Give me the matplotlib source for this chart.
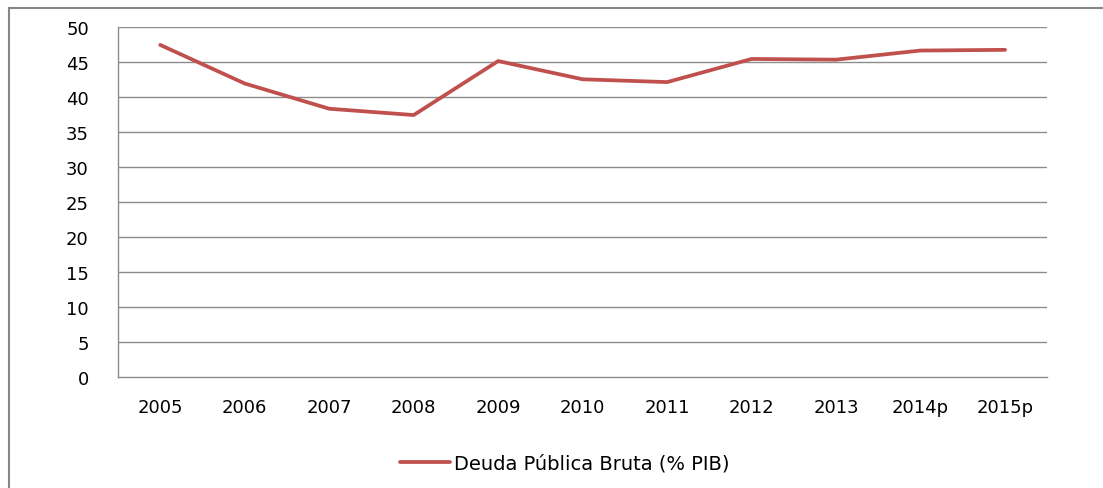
import matplotlib
matplotlib.use("Agg")
import matplotlib.pyplot as plt
from matplotlib.lines import Line2D

# données
annees = ["2005", "2006", "2007", "2008", "2009", "2010", "2011", "2012", "2013", "2014p", "2015p"]
deuda = [47.4, 41.9, 38.3, 37.4, 45.1, 42.5, 42.1, 45.4, 45.3, 46.6, 46.7]
y_ticks = [0, 5, 10, 15, 20, 25, 30, 35, 40, 45, 50]

W, H = 1103, 489
fig = plt.figure(figsize=(W / 100, H / 100), dpi=100)
ax = fig.add_axes([118 / W, 1 - 378.3 / H, (1047.3 - 118) / W, (378.3 - 27.7) / H])

x = list(range(len(annees)))
ax.plot(x, deuda, color="#C0504D", linewidth=2.7, solid_capstyle="round",
        solid_joinstyle="round", label="Deuda Pública Bruta (% PIB)", zorder=3)

ax.set_xlim(-0.5, len(annees) - 0.5)
ax.set_ylim(0, 50)
ax.set_yticks(y_ticks)
ax.set_xticks(x)
ax.set_xticklabels(annees)

# grille horizontale grise
for v in y_ticks[1:]:
    ax.axhline(v, color="#8c8c8c", linewidth=1.0, zorder=1)

for s in ["top", "right"]:
    ax.spines[s].set_visible(False)
ax.spines["left"].set_color("#8c8c8c")
ax.spines["bottom"].set_color("#8c8c8c")
ax.spines["left"].set_linewidth(1.0)
ax.spines["bottom"].set_linewidth(1.0)

ax.tick_params(axis="both", length=0, labelsize=13, colors="#000000")
ax.tick_params(axis="y", pad=21)
ax.tick_params(axis="x", pad=15)

leg = ax.legend(loc="center", bbox_to_anchor=(0.4806, -0.245), frameon=False,
                fontsize=14, handlelength=2.6, handletextpad=0.2)

# cadre extérieur (coupé en bas et à droite)
fig.add_artist(Line2D([9 / W, 1.0], [1 - 9 / H, 1 - 9 / H], color="#868686", linewidth=1.5))
fig.add_artist(Line2D([9 / W, 9 / W], [0.0, 1 - 9 / H], color="#868686", linewidth=1.5))

fig.savefig("out.png", dpi=100)
